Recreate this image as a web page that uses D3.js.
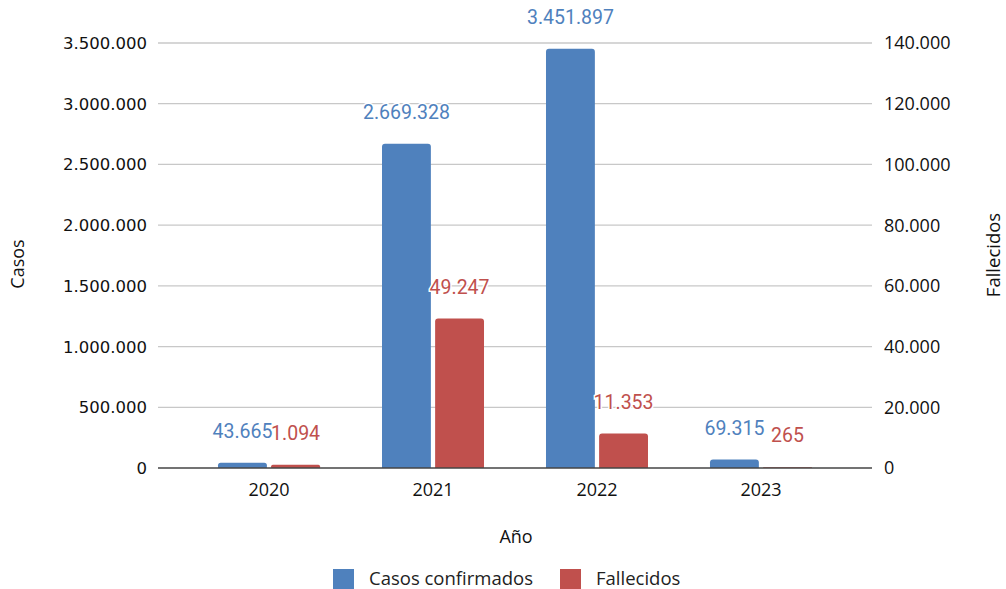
<!DOCTYPE html>
<html><head><meta charset="utf-8">
<script src="https://cdn.jsdelivr.net/npm/d3@7"></script>
<style>body{margin:0;background:#fff}svg{display:block}</style>
</head><body>
<svg id="c" width="1006" height="589"></svg>
<script>
const years = ["2020","2021","2022","2023"];
const casos = [43665, 2669328, 3451897, 69315];
const fallecidos = [1094, 49247, 11353, 265];
const leftTicks = [0,500000,1000000,1500000,2000000,2500000,3000000,3500000];
const rightTicks = [0,20000,40000,60000,80000,100000,120000,140000];
const seriesNames = ["Casos confirmados","Fallecidos"];
const colors = ["#4f81bd","#c0504d"];

const svg = d3.select("#c");
const L=158, R=872, T=43, B=468;
const fmt = v => d3.format(",")(v).replace(/,/g,".");
const x = d3.scaleBand().domain(years).range([L,R]).paddingOuter(0.177).paddingInner(0);
const sub = d3.scaleBand().domain([0,1]).range([-51,51]).paddingInner(0.08);
const yL = d3.scaleLinear().domain([0,3500000]).range([B,T]);
const yR = d3.scaleLinear().domain([0,140000]).range([B,T]);

// gridlines
svg.append("g").selectAll("line").data(leftTicks.filter(d=>d>0)).join("line")
  .attr("x1",L).attr("x2",R).attr("y1",d=>yL(d)).attr("y2",d=>yL(d))
  .attr("stroke","#c8c8c8").attr("stroke-width",1.3);
// left ticks
svg.append("g").selectAll("text").data(leftTicks).join("text")
  .attr("x",147).attr("y",d=>yL(d)).attr("dy","0.36em").attr("text-anchor","end")
  .attr("font-family","DejaVu Sans").attr("font-size",16.5).attr("fill","#111").text(fmt);
svg.append("g").selectAll("text").data(rightTicks).join("text")
  .attr("x",884).attr("y",d=>yR(d)).attr("dy","0.36em").attr("text-anchor","start")
  .attr("font-family","Open Sans").attr("font-size",18).attr("fill","#111").text(fmt);

// bars
const barPath = (x0,y0,w,h,r) => {
  r=Math.min(r,h/2,w/2);
  if(h<=0) return "";
  return `M${x0},${y0+h}V${y0+r}Q${x0},${y0} ${x0+r},${y0}H${x0+w-r}Q${x0+w},${y0} ${x0+w},${y0+r}V${y0+h}Z`;
};
const rows = years.map((yr,i)=>({yr, vals:[casos[i], fallecidos[i]]}));
const scales=[yL,yR];
rows.forEach(r=>{
  r.vals.forEach((v,k)=>{
    const cx = x(r.yr)+x.bandwidth()/2;
    const bx = cx+sub(k), bw=sub.bandwidth();
    const top = scales[k](v);
    svg.append("path").attr("d",barPath(bx,top,bw,B-top,3)).attr("fill",colors[k]);
  });
});
// baseline
svg.append("line").attr("x1",L).attr("x2",R).attr("y1",B).attr("y2",B).attr("stroke","#444").attr("stroke-width",1.3);

// labels
rows.forEach(r=>{
  r.vals.forEach((v,k)=>{
    const cx = x(r.yr)+x.bandwidth()/2 + sub(k)+sub.bandwidth()/2;
    const top = scales[k](v);
    svg.append("text").attr("x",cx).attr("y",top-32).attr("dy","0.36em").attr("text-anchor","middle")
      .attr("font-family","Roboto").attr("font-size",19.5).attr("fill",colors[k])
      .attr("stroke","#fff").attr("stroke-width",3).attr("paint-order","stroke").text(fmt(v));
  });
});

// x labels
svg.append("g").selectAll("text").data(years).join("text")
  .attr("x",d=>x(d)+x.bandwidth()/2).attr("y",490).attr("dy","0.36em").attr("text-anchor","middle")
  .attr("font-family","Open Sans").attr("font-size",18).attr("fill","#111").text(d=>d);

// axis titles
svg.append("text").attr("x",516).attr("y",537).attr("dy","0.36em").attr("text-anchor","middle")
  .attr("font-family","Open Sans").attr("font-size",18).attr("fill","#111").text("Año");
svg.append("text").attr("transform","translate(18,264) rotate(-90)").attr("dy","0.36em").attr("text-anchor","middle")
  .attr("font-family","Open Sans").attr("font-size",18).attr("fill","#111").text("Casos");
svg.append("text").attr("transform","translate(993,255) rotate(-90)").attr("dy","0.36em").attr("text-anchor","middle")
  .attr("font-family","Open Sans").attr("font-size",18.5).attr("fill","#111").text("Fallecidos");

// legend
const leg = [{x:333,tx:369},{x:560,tx:596}];
seriesNames.forEach((n,k)=>{
  svg.append("rect").attr("x",leg[k].x).attr("y",569).attr("width",21).attr("height",20).attr("fill",colors[k]);
  svg.append("text").attr("x",leg[k].tx).attr("y",578).attr("dy","0.36em")
    .attr("font-family","Open Sans").attr("font-size",18.5).attr("fill","#222").text(n);
});
</script>
</body></html>
